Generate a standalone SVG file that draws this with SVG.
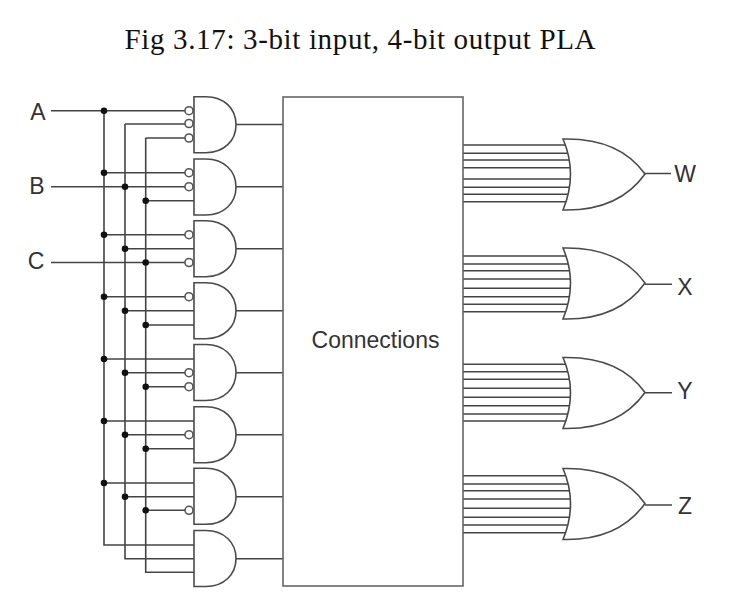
<svg xmlns="http://www.w3.org/2000/svg" width="745" height="612" viewBox="0 0 745 612">
<style>
.w{fill:none;stroke:#444;stroke-width:1.6}
.g{fill:#fff;stroke:#4a4a4a;stroke-width:1.6}
.b{fill:#fff;stroke:#555;stroke-width:1.6}
.d{fill:#111;stroke:none}
.l{font-family:"Liberation Sans",Arial,sans-serif;font-size:23px;fill:#333;text-anchor:middle}
.t{font-family:"Liberation Serif","Times New Roman",serif;font-size:29px;letter-spacing:.65px;fill:#111}
</style>
<defs>
<path id="and" class="g" d="M194,0H206C224,0 236,12 236,28C236,44 224,56 206,56H194Z"/>
<path id="or" class="g" d="M563,0Q578,35 563,71C605,72 630,56 645,35C630,14 605,-1 563,0Z"/>
<circle id="bub" class="b" r="4"/>
<circle id="dot" class="d" r="3.300"/>
</defs>
<rect width="745" height="612" fill="#fff"/>
<text class="t" x="124.500" y="49">Fig 3.17: 3-bit input, 4-bit output PLA</text>
<g id="connectors">
<path class="w" d="M51,110.7H185M125,124H185M145.700,138H185M104,110.700V545H194M125,124V558.700H194M145.700,138V572.300H194"/>
<path class="w" d="M104,172.700H185M51,186.700H185M145.700,200.700H194"/>
<path class="w" d="M104,234.700H185M125,248.700H194M51,262.500H185"/>
<path class="w" d="M104,296.700H185M125,310.700H194M145.700,325H194"/>
<path class="w" d="M104,359H194M125,372.700H185M145.700,386.700H185"/>
<path class="w" d="M104,421H194M125,434.700H185M145.700,448.700H194"/>
<path class="w" d="M104,483H194M125,496.700H194M145.700,510.300H185"/>
<path class="w" d="M236,124.500H283M236,186.700H283M236,248.700H283M236,310.700H283M236,372.700H283M236,434.700H283M236,496.700H283M236,558.700H283"/>
<path class="w" d="M463,145H572M463,153.300H572M463,160H572M463,167.700H572M463,179H572M463,187.300H572M463,194.300H572M463,201.700H572"/>
<path class="w" d="M463,256H572M463,264H572M463,270.700H572M463,279H572M463,288.300H572M463,296.700H572M463,304.300H572M463,311.700H572"/>
<path class="w" d="M463,364.300H572M463,371.700H572M463,379.300H572M463,388.300H572M463,397.300H572M463,405.700H572M463,414H572M463,421H572"/>
<path class="w" d="M463,475.700H572M463,484H572M463,490.700H572M463,499H572M463,508.300H572M463,517.300H572M463,525H572M463,532.700H572"/>
<path class="w" d="M645,173.500H671M645,284.300H672M645,392.700H672M645,505H672"/>
<g>
<use href="#dot" x="104" y="110.700"/><use href="#dot" x="104" y="172.700"/><use href="#dot" x="104" y="234.700"/><use href="#dot" x="104" y="296.700"/><use href="#dot" x="104" y="359"/><use href="#dot" x="104" y="421"/><use href="#dot" x="104" y="483"/>
<use href="#dot" x="125" y="186.700"/><use href="#dot" x="125" y="248.700"/><use href="#dot" x="125" y="310.700"/><use href="#dot" x="125" y="372.700"/><use href="#dot" x="125" y="434.700"/><use href="#dot" x="125" y="496.700"/>
<use href="#dot" x="145.700" y="200.700"/><use href="#dot" x="145.700" y="262.500"/><use href="#dot" x="145.700" y="325"/><use href="#dot" x="145.700" y="386.700"/><use href="#dot" x="145.700" y="448.700"/><use href="#dot" x="145.700" y="510.300"/>
</g>
</g>
<g id="input-a"><text class="l" x="38" y="120">A</text></g>
<g id="input-b"><text class="l" x="37" y="194">B</text></g>
<g id="input-c"><text class="l" x="36" y="269">C</text></g>
<g id="and1"><use href="#and" y="96.700"/><use href="#bub" x="189" y="110.700"/><use href="#bub" x="189" y="123.500"/><use href="#bub" x="189" y="138"/></g>
<g id="and2"><use href="#and" y="159"/><use href="#bub" x="189" y="172.700"/><use href="#bub" x="189" y="186.700"/></g>
<g id="and3"><use href="#and" y="220.700"/><use href="#bub" x="189" y="234.700"/><use href="#bub" x="189" y="262.500"/></g>
<g id="and4"><use href="#and" y="282.700"/><use href="#bub" x="189" y="296.700"/></g>
<g id="and5"><use href="#and" y="344.500"/><use href="#bub" x="189" y="372.700"/><use href="#bub" x="189" y="386.700"/></g>
<g id="and6"><use href="#and" y="406.700"/><use href="#bub" x="189" y="434.700"/></g>
<g id="and7"><use href="#and" y="468.300"/><use href="#bub" x="189" y="510.300"/></g>
<g id="and8"><use href="#and" y="530.500"/></g>
<g id="connections"><rect x="283" y="97" width="180" height="489" fill="#fff" stroke="#666" stroke-width="1.6"/><text class="l" x="375.500" y="348">Connections</text></g>
<g id="or-w"><use href="#or" y="139"/><text class="l" x="685" y="181.500">W</text></g>
<g id="or-x"><use href="#or" y="248"/><text class="l" x="685" y="295">X</text></g>
<g id="or-y"><use href="#or" y="357.500"/><text class="l" x="685" y="399">Y</text></g>
<g id="or-z"><use href="#or" y="468.500"/><text class="l" x="685" y="514">Z</text></g>
</svg>
